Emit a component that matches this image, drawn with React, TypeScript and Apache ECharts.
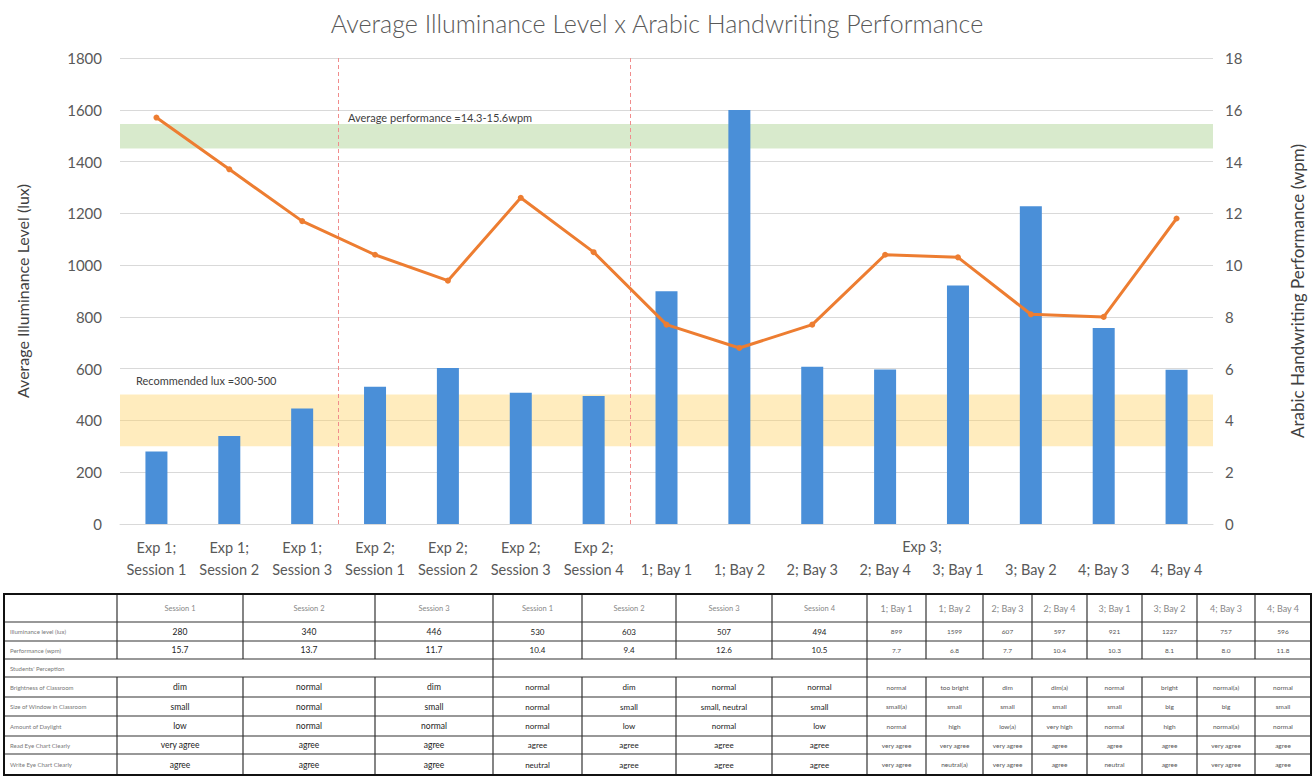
import React, { useEffect, useRef } from "react";
import * as echarts from "echarts";

// ---------- chart data ----------
const categories = [
  "Exp 1;\nSession 1", "Exp 1;\nSession 2", "Exp 1;\nSession 3",
  "Exp 2;\nSession 1", "Exp 2;\nSession 2", "Exp 2;\nSession 3", "Exp 2;\nSession 4",
  "\n1; Bay 1", "\n1; Bay 2", "\n2; Bay 3", "\n2; Bay 4",
  "\n3; Bay 1", "\n3; Bay 2", "\n4; Bay 3", "\n4; Bay 4",
];
const groupLabel = "Exp 3;";
const illuminance = [280, 340, 446, 530, 603, 507, 494, 899, 1599, 607, 597, 921, 1227, 757, 596];
const performance = [15.7, 13.7, 11.7, 10.4, 9.4, 12.6, 10.5, 7.7, 6.8, 7.7, 10.4, 10.3, 8.1, 8.0, 11.8];
const recommendedLux = [300, 500];
const performanceBand = [14.5, 15.45];
const experimentBoundaries = [3, 7];
const leftAxis = { min: 0, max: 1800, interval: 200 };
const rightAxis = { min: 0, max: 18, interval: 2 };

// ---------- table data ----------
const rowLabels = [
  "",
  "Illuminance level (lux)",
  "Performance (wpm)",
  "Students' Perception",
  "Brightness of Classroom",
  "Size of Window in Classroom",
  "Amount of Daylight",
  "Read Eye Chart Clearly",
  "Write Eye Chart Clearly",
];
const exp1Header = ["Session 1", "Session 2", "Session 3"];
const exp1Lux = ["280", "340", "446"];
const exp1Perf = ["15.7", "13.7", "11.7"];
const exp1Bright = ["dim", "normal", "dim"];
const exp1Window = ["small", "normal", "small"];
const exp1Daylight = ["low", "normal", "normal"];
const exp1Read = ["very agree", "agree", "agree"];
const exp1Write = ["agree", "agree", "agree"];

const exp2Header = ["Session 1", "Session 2", "Session 3", "Session 4"];
const exp2Lux = ["530", "603", "507", "494"];
const exp2Perf = ["10.4", "9.4", "12.6", "10.5"];
const exp2Bright = ["normal", "dim", "normal", "normal"];
const exp2Window = ["normal", "small", "small, neutral", "small"];
const exp2Daylight = ["normal", "low", "normal", "low"];
const exp2Read = ["agree", "agree", "agree", "agree"];
const exp2Write = ["neutral", "agree", "agree", "agree"];

const exp3Header = ["1; Bay 1", "1; Bay 2", "2; Bay 3", "2; Bay 4", "3; Bay 1", "3; Bay 2", "4; Bay 3", "4; Bay 4"];
const exp3Lux = ["899", "1599", "607", "597", "921", "1227", "757", "596"];
const exp3Perf = ["7.7", "6.8", "7.7", "10.4", "10.3", "8.1", "8.0", "11.8"];
const exp3Bright = ["normal", "too bright", "dim", "dim(a)", "normal", "bright", "normal(a)", "normal"];
const exp3Window = ["small(a)", "small", "small", "small", "small", "big", "big", "small"];
const exp3Daylight = ["normal", "high", "low(a)", "very high", "normal", "high", "normal(a)", "normal"];
const exp3Read = ["very agree", "very agree", "very agree", "agree", "agree", "agree", "very agree", "agree"];
const exp3Write = ["very agree", "neutral(a)", "very agree", "agree", "neutral", "agree", "very agree", "agree"];

// ---------- layout ----------
const FONT = "Lato, 'Open Sans', sans-serif";
const rowY = [594, 622, 641, 659, 677, 697, 716, 736, 754, 775];
const labelCol = [4, 117];
const exp1Cols = [117, 243, 375, 493];
const exp2Cols = [493, 582, 676, 772, 867];
const exp3Cols = [867, 926, 983, 1032, 1087, 1142, 1197, 1255, 1311];

function buildTable(): any[] {
  const els: any[] = [];
  const left = labelCol[0];
  const right = exp3Cols[exp3Cols.length - 1];
  const top = rowY[0];
  const bottom = rowY[rowY.length - 1];
  const lineStyle = { stroke: "#333", lineWidth: 1.2 };
  rowY.forEach((y) => {
    els.push({ type: "line", shape: { x1: left, y1: y, x2: right, y2: y }, style: lineStyle, silent: true });
  });
  const fullCols = [left, exp1Cols[exp1Cols.length - 1], exp2Cols[exp2Cols.length - 1], right];
  const allCols = Array.from(new Set([...labelCol, ...exp1Cols, ...exp2Cols, ...exp3Cols]));
  allCols.forEach((x) => {
    if (fullCols.includes(x)) {
      els.push({ type: "line", shape: { x1: x, y1: top, x2: x, y2: bottom }, style: lineStyle, silent: true });
    } else {
      els.push({ type: "line", shape: { x1: x, y1: rowY[0], x2: x, y2: rowY[3] }, style: lineStyle, silent: true });
      els.push({ type: "line", shape: { x1: x, y1: rowY[4], x2: x, y2: bottom }, style: lineStyle, silent: true });
    }
  });
  els.push({
    type: "rect",
    shape: { x: left, y: top, width: right - left, height: bottom - top },
    style: { fill: "none", stroke: "#111", lineWidth: 2 },
    silent: true,
  });
  rowLabels.forEach((t, r) => {
    if (!t) return;
    els.push({
      type: "text",
      x: left + 6,
      y: (rowY[r] + rowY[r + 1]) / 2,
      style: { text: t, fontSize: 6, fill: "#777", fontFamily: FONT, verticalAlign: "middle", align: "left" },
      silent: true,
    });
  });
  const groups = [
    { cols: exp1Cols, rows: [exp1Header, exp1Lux, exp1Perf, null, exp1Bright, exp1Window, exp1Daylight, exp1Read, exp1Write], size: 8.5 },
    { cols: exp2Cols, rows: [exp2Header, exp2Lux, exp2Perf, null, exp2Bright, exp2Window, exp2Daylight, exp2Read, exp2Write], size: 8 },
    { cols: exp3Cols, rows: [exp3Header, exp3Lux, exp3Perf, null, exp3Bright, exp3Window, exp3Daylight, exp3Read, exp3Write], size: 6.5 },
  ];
  groups.forEach((g) => {
    g.rows.forEach((row, r) => {
      if (!row) return;
      row.forEach((t, c) => {
        const isHeader = r === 0;
        els.push({
          type: "text",
          x: (g.cols[c] + g.cols[c + 1]) / 2,
          y: (rowY[r] + rowY[r + 1]) / 2,
          style: {
            text: t,
            fontSize: isHeader ? (g.size === 6.5 ? 9 : 7.5) : g.size,
            fill: isHeader ? "#888" : g.size === 6.5 ? "#555" : "#222",
            fontFamily: FONT,
            align: "center",
            verticalAlign: "middle",
          },
          silent: true,
        });
      });
    });
  });
  return els;
}

export default function App() {
  const ref = useRef<HTMLDivElement>(null);
  useEffect(() => {
    if (!ref.current) return;
    const chart = echarts.init(ref.current, null, { renderer: "svg" });
    const axisLabel = { color: "#595959", fontSize: 15, fontFamily: FONT, formatter: (v: number) => String(v) };
    chart.setOption({
      animation: false,
      backgroundColor: "#fff",
      textStyle: { fontFamily: FONT },
      title: {
        text: "Average Illuminance Level x Arabic Handwriting Performance",
        left: "center",
        top: 5,
        textStyle: { color: "#595959", fontSize: 25, fontWeight: 300, fontFamily: FONT },
      },
      grid: { left: 120, right: 100, top: 58, bottom: 252 },
      xAxis: [
        {
          type: "category",
          data: categories,
          axisTick: { show: false },
          axisLine: { lineStyle: { color: "#d9d9d9" } },
          axisLabel: { color: "#595959", fontSize: 14.5, interval: 0, lineHeight: 22, margin: 12, fontFamily: FONT },
        },
        { type: "value", min: 0, max: categories.length, show: false },
      ],
      yAxis: [
        {
          type: "value",
          ...leftAxis,
          name: "Average Illuminance Level (lux)",
          nameLocation: "middle",
          nameGap: 90,
          nameRotate: 90,
          nameTextStyle: { color: "#404040", fontSize: 16, fontFamily: FONT },
          axisLabel: { ...axisLabel, margin: 18 },
          axisLine: { show: false },
          axisTick: { show: false },
          splitLine: { lineStyle: { color: "#d9d9d9" } },
        },
        {
          type: "value",
          ...rightAxis,
          name: "Arabic Handwriting Performance (wpm)",
          nameLocation: "middle",
          nameGap: 76,
          nameRotate: 90,
          nameTextStyle: { color: "#404040", fontSize: 17, fontFamily: FONT },
          axisLabel: { ...axisLabel, margin: 12 },
          axisLine: { show: false },
          axisTick: { show: false },
          splitLine: { show: false },
        },
      ],
      series: [
        {
          type: "bar",
          data: illuminance,
          barWidth: 22,
          itemStyle: { color: "#4A8FD8" },
          markArea: {
            silent: true,
            itemStyle: { color: "rgba(255,210,100,0.42)" },
            label: {
              show: true,
              position: [16, -20],
              color: "#404040",
              fontSize: 11,
              fontFamily: FONT,
            },
            data: [[
              { yAxis: recommendedLux[0], name: "Recommended lux =300-500" },
              { yAxis: recommendedLux[1] },
            ]],
          },
        },
        {
          type: "line",
          yAxisIndex: 1,
          data: performance,
          symbol: "circle",
          symbolSize: 6,
          lineStyle: { color: "#ED7D31", width: 3 },
          itemStyle: { color: "#ED7D31" },
          z: 5,
          markArea: {
            silent: true,
            itemStyle: { color: "rgba(169,208,142,0.45)" },
            label: {
              show: true,
              position: [228, -12],
              color: "#404040",
              fontSize: 11,
              fontFamily: FONT,
            },
            data: [[
              { yAxis: performanceBand[0], name: "Average performance =14.3-15.6wpm" },
              { yAxis: performanceBand[1] },
            ]],
          },
        },
        {
          type: "scatter",
          xAxisIndex: 1,
          yAxisIndex: 0,
          data: [],
          markLine: {
            silent: true,
            symbol: "none",
            label: { show: false },
            lineStyle: { color: "#F08C8C", type: [4, 3], width: 1 },
            data: experimentBoundaries.map((b) => ({ xAxis: b })),
          },
        },
      ],
      graphic: [
        {
          type: "text",
          x: 922,
          y: 546,
          style: { text: groupLabel, fontSize: 14.5, fill: "#595959", fontFamily: FONT, align: "center", verticalAlign: "middle" },
          silent: true,
        },
        ...buildTable(),
      ],
    });
    return () => chart.dispose();
  }, []);
  return <div ref={ref} style={{ position: "absolute", left: 0, top: 0, width: 1314, height: 776 }} />;
}
